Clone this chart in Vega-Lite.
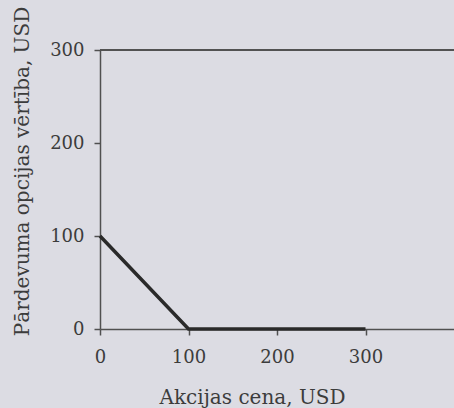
{
  "$schema": "https://vega.github.io/schema/vega-lite/v6.json",
  "width": 354,
  "height": 279,
  "autosize": "none",
  "padding": {"left": 100, "top": 50, "right": 0, "bottom": 79},
  "background": "#dcdce3",
  "config": {
    "view": {"stroke": null},
    "font": "DejaVu Serif",
    "axis": {
      "grid": false,
      "domainColor": "#505050",
      "domainWidth": 1.5,
      "tickColor": "#505050",
      "tickWidth": 1.5,
      "tickSize": 6,
      "labelFont": "DejaVu Serif",
      "labelFontSize": 18,
      "labelColor": "#3c3c3c",
      "titleFont": "DejaVu Serif",
      "titleFontSize": 20,
      "titleFontWeight": "normal",
      "titleColor": "#3c3c3c"
    }
  },
  "data": {
    "values": [
      {"price": 0, "value": 100},
      {"price": 100, "value": 0},
      {"price": 300, "value": 0}
    ]
  },
  "layer": [
    {
      "mark": {"type": "line", "color": "#2a2a2a", "strokeWidth": 3.5},
      "encoding": {
        "x": {
          "field": "price",
          "type": "quantitative",
          "scale": {"domain": [0, 400], "nice": false},
          "axis": {
            "values": [0, 100, 200, 300],
            "title": "Akcijas cena, USD",
            "labelPadding": 13,
            "labelFlush": false,
            "titleX": 152,
            "titleY": 74,
            "titleBaseline": "alphabetic",
            "titleAnchor": "middle",
            "titleAlign": "center"
          }
        },
        "y": {
          "field": "value",
          "type": "quantitative",
          "scale": {"domain": [0, 300], "nice": false},
          "axis": {
            "values": [0, 100, 200, 300],
            "title": "Pārdevuma opcijas vērtība, USD",
            "labelPadding": 10,
            "labelFlush": false,
            "titleAngle": 270,
            "titleX": -72,
            "titleY": 121,
            "titleAlign": "center",
            "titleBaseline": "alphabetic"
          }
        }
      }
    },
    {
      "mark": {"type": "rule", "color": "#505050", "strokeWidth": 1.5},
      "encoding": {"y": {"datum": 300}}
    }
  ]
}
